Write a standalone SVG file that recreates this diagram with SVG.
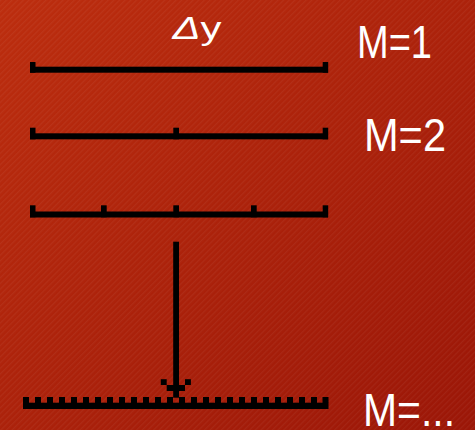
<svg xmlns="http://www.w3.org/2000/svg" width="475" height="430" viewBox="0 0 475 430">
<defs>
<linearGradient id="bg" x1="0" y1="0" x2="1" y2="1">
<stop offset="0" stop-color="#bc2d0e"/>
<stop offset="1" stop-color="#9b1607"/>
</linearGradient>
<pattern id="hatch" width="4" height="4" patternUnits="userSpaceOnUse" patternTransform="rotate(45)">
<rect width="1.3" height="4" fill="#ffffff" opacity="0.05"/>
</pattern>
<style>
.bar{fill:#000}
.lbl{fill:#fff;font-family:"Liberation Sans","DejaVu Sans",sans-serif}
</style>
</defs>
<rect width="475" height="430" fill="url(#bg)"/>
<rect width="475" height="430" fill="url(#hatch)"/>
<text class="lbl" x="172.5" y="39.3" font-size="32" textLength="49" lengthAdjust="spacingAndGlyphs"><tspan font-style="italic">Δ</tspan>y</text>
<g id="scale1">
<rect class="bar" x="30" y="66.7" width="298" height="6"/>
<rect class="bar" x="30" y="62" width="5.5" height="10.7"/>
<rect class="bar" x="322.7" y="62" width="5.5" height="10.7"/>
<text class="lbl" x="357" y="57.7" font-size="46" textLength="75" lengthAdjust="spacingAndGlyphs">M=1</text>
</g>
<g id="scale2">
<rect class="bar" x="30" y="133.3" width="298" height="6"/>
<rect class="bar" x="30" y="127.7" width="5.5" height="11.6"/>
<rect class="bar" x="173.3" y="127.7" width="5.7" height="11.6"/>
<rect class="bar" x="322.7" y="127.7" width="5.5" height="11.6"/>
<text class="lbl" x="364" y="150.5" font-size="46" textLength="82" lengthAdjust="spacingAndGlyphs">M=2</text>
</g>
<g id="scale3">
<rect class="bar" x="30" y="211.5" width="298" height="6"/>
<rect class="bar" x="30" y="205.3" width="5.5" height="12"/>
<rect class="bar" x="101" y="205.3" width="5.7" height="12"/>
<rect class="bar" x="173.3" y="205.3" width="5.7" height="12"/>
<rect class="bar" x="251" y="205.3" width="5.7" height="12"/>
<rect class="bar" x="322.7" y="205.3" width="5.5" height="12"/>
</g>
<g id="scaleN">
<rect class="bar" x="23" y="402.7" width="305.5" height="6.3"/>
<g class="bar">
<rect x="23" y="397" width="6" height="6"/><rect x="35" y="397" width="6" height="6"/><rect x="47" y="397" width="6" height="6"/><rect x="59" y="397" width="6" height="6"/><rect x="71" y="397" width="6" height="6"/><rect x="83" y="397" width="6" height="6"/><rect x="95" y="397" width="6" height="6"/><rect x="107" y="397" width="6" height="6"/><rect x="119" y="397" width="6" height="6"/><rect x="131" y="397" width="6" height="6"/><rect x="143" y="397" width="6" height="6"/><rect x="155" y="397" width="6" height="6"/><rect x="167" y="397" width="6" height="6"/><rect x="179" y="397" width="6" height="6"/><rect x="191" y="397" width="6" height="6"/><rect x="203" y="397" width="6" height="6"/><rect x="215" y="397" width="6" height="6"/><rect x="227" y="397" width="6" height="6"/><rect x="239" y="397" width="6" height="6"/><rect x="251" y="397" width="6" height="6"/><rect x="263" y="397" width="6" height="6"/><rect x="275" y="397" width="6" height="6"/><rect x="287" y="397" width="6" height="6"/><rect x="299" y="397" width="6" height="6"/><rect x="311" y="397" width="6" height="6"/><rect x="322.5" y="397" width="6" height="6"/>
</g>
<text class="lbl" x="363" y="426" font-size="46" textLength="92" lengthAdjust="spacingAndGlyphs">M=...</text>
</g>
<g id="connectors">
<g id="arrow" class="bar">
<rect x="173.2" y="241.7" width="5.8" height="156"/>
<rect x="166.7" y="385" width="18.3" height="6"/>
<rect x="160.8" y="379.2" width="5.9" height="5.8"/>
<rect x="185" y="379.2" width="5.9" height="5.8"/>
</g>
</g>
</svg>
